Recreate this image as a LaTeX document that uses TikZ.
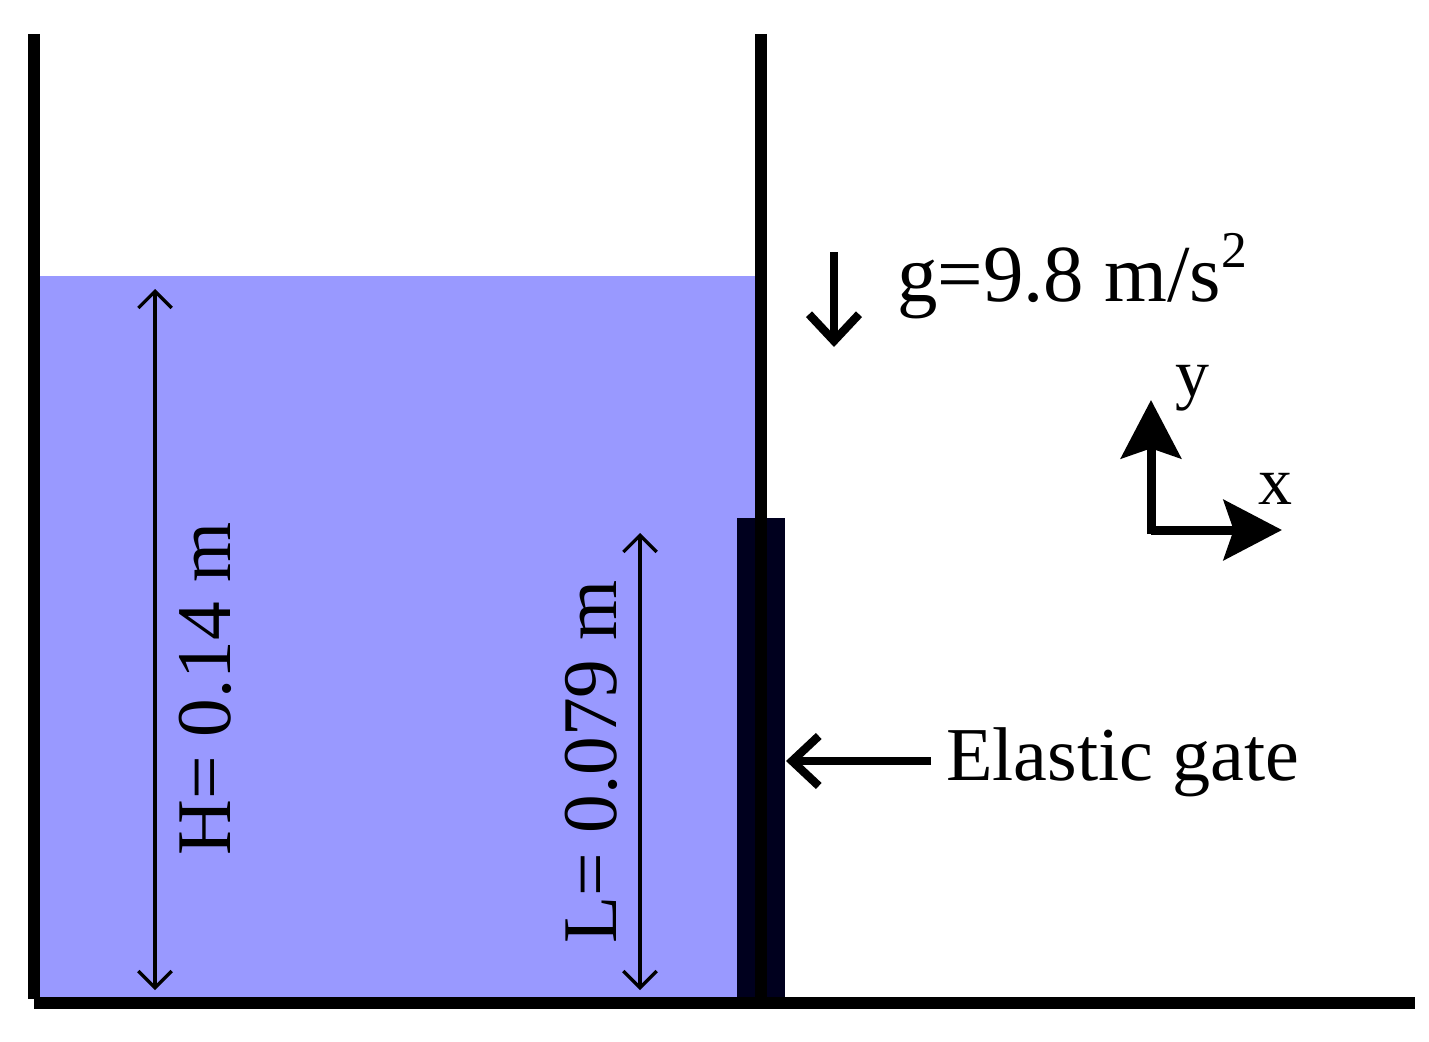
\documentclass[tikz,border=0pt]{standalone}
\usepackage{fontspec}
\setmainfont{Liberation Serif}
\usetikzlibrary{arrows.meta}
\definecolor{waterblue}{RGB}{153,153,255}
\definecolor{gatedark}{RGB}{0,0,30}
\tikzset{
    wall/.style={line width=0.36cm},
    dimline/.style={line width=0.1cm, {Straight Barb[length=0.5cm,width=1.0cm]}-{Straight Barb[length=0.5cm,width=1.0cm]}},
    bigtext/.style={font=\fontsize{66}{72}\selectfont, inner sep=0pt},
    axistext/.style={font=\fontsize{58}{64}\selectfont, inner sep=0pt},
    axisline/.style={line width=0.27cm, -{Stealth[length=1.75cm,width=1.8cm,inset=0.3cm]}},
    thinarrow/.style={line width=0.25cm, -{Straight Barb[length=0.8cm,width=1.5cm]}},
}
\begin{document}
\begin{tikzpicture}[x=0.03cm,y=-0.03cm]
    \useasboundingbox (0,0) rectangle (1429,1042);
    % water and gate
    \fill[waterblue] (34,276) rectangle (761,1002);
    \fill[gatedark] (737,518) rectangle (785,1002);

    % walls
    \coordinate (lefttop) at (34,34);
    \coordinate (leftbot) at (34,999);
    \coordinate (midtop) at (761,34);
    \coordinate (midbot) at (761,1002);
    \coordinate (floorleft) at (34,1003);
    \coordinate (floorright) at (1415,1003);
    \draw[wall] (lefttop) -- (leftbot);
    \draw[wall] (midtop) -- (midbot);
    \draw[wall] (floorleft) -- (floorright);

    % dimensions
    \coordinate (Htop) at (155,289);
    \coordinate (Hbot) at (155,990);
    \coordinate (Ltop) at (640,533);
    \coordinate (Lbot) at (640,990);
    \draw[dimline] (Htop) -- (Hbot);
    \draw[dimline] (Ltop) -- (Lbot);
    \node[bigtext, rotate=90, anchor=base west] (Hlabel) at (230,856) {H= 0.14 m};
    \node[bigtext, rotate=90, anchor=base west] (Llabel) at (616,944) {L= 0.079 m};

    % gravity
    \coordinate (gtop) at (834,252);
    \coordinate (gbot) at (834,347);
    \draw[thinarrow] (gtop) -- (gbot);
    \node[bigtext, font=\fontsize{69}{72}\selectfont, anchor=base west] (glabel) at (897,301) {g=9.8 m/s\raisebox{0.42em}{\fontsize{44}{48}\selectfont 2}};

    % axes
    \coordinate (origin) at (1151,530);
    \coordinate (ytip) at (1151,400);
    \coordinate (xtip) at (1282,530);
    \draw[axisline] (origin) ++(0,4) -- (ytip);
    \draw[axisline] (origin) -- (xtip);
    \node[axistext, anchor=base] (ylabel) at (1192,396) {y};
    \node[axistext, anchor=base] (xlabel) at (1275,504) {x};

    % gate label
    \node[bigtext, font=\fontsize{65}{72}\selectfont, anchor=base west] (gatelabel) at (946,780) {Elastic gate};
    \coordinate (gatestart) at (931,761);
    \coordinate (gatetip) at (786,761);
    \draw[thinarrow] (gatestart) -- (gatetip);
\end{tikzpicture}
\end{document}
